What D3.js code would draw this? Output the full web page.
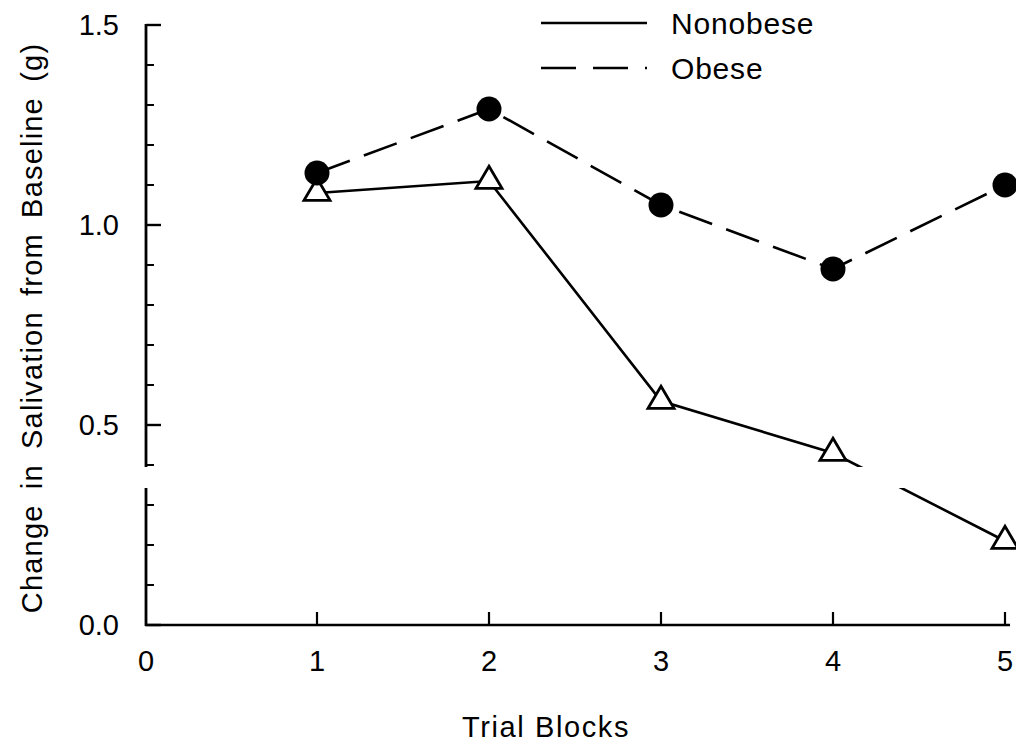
<!DOCTYPE html>
<html>
<head>
<meta charset="utf-8">
<script src="https://cdn.jsdelivr.net/npm/d3@7"></script>
<style>
  html, body { margin: 0; padding: 0; background: #fff; }
  svg { display: block; }
  text { font-family: "Liberation Sans", Arial, Helvetica, sans-serif; fill: #000; }
</style>
</head>
<body>
<svg id="chart" width="1016" height="745"></svg>
<script>
// ---- data ----
const trialBlocks = [1, 2, 3, 4, 5];
const nonobese = [1.08, 1.11, 0.56, 0.43, 0.21];
const obese = [1.13, 1.29, 1.05, 0.89, 1.10];
const xTickValues = [0, 1, 2, 3, 4, 5];
const yMajorTicks = [0.0, 0.5, 1.0, 1.5];
const yMinorTicks = [0.1, 0.2, 0.3, 0.4, 0.6, 0.7, 0.8, 0.9, 1.1, 1.2, 1.3, 1.4];
const seriesNames = ["Nonobese", "Obese"];
const xTitle = "Trial Blocks";
const yTitle = "Change in Salivation from Baseline (g)";

// ---- layout ----
const svg = d3.select("#chart");
const x = d3.scaleLinear().domain([0, 5]).range([145, 1005]);
const y = d3.scaleLinear().domain([0, 1.5]).range([625, 25]);
const axisLeftX = 146;
const breakTop = 467, breakBottom = 488;

const g = svg.append("g");

// axes lines
g.append("line").attr("x1", axisLeftX).attr("x2", axisLeftX)
  .attr("y1", y(1.5) - 1).attr("y2", y(0) + 1).attr("stroke", "#000").attr("stroke-width", 2.8);
g.append("line").attr("x1", axisLeftX - 1).attr("x2", 1010)
  .attr("y1", y(0)).attr("y2", y(0)).attr("stroke", "#000").attr("stroke-width", 2.6);

// y ticks (inside)
g.selectAll(".ymaj").data(yMajorTicks).join("line")
  .attr("x1", axisLeftX).attr("x2", axisLeftX + 15)
  .attr("y1", d => y(d)).attr("y2", d => y(d))
  .attr("stroke", "#000").attr("stroke-width", 2.4);
g.selectAll(".ymin").data(yMinorTicks).join("line")
  .attr("x1", axisLeftX).attr("x2", axisLeftX + 8)
  .attr("y1", d => y(d)).attr("y2", d => y(d))
  .attr("stroke", "#000").attr("stroke-width", 2);
g.selectAll(".ylab").data(yMajorTicks).join("text")
  .attr("x", 119).attr("y", d => y(d))
  .attr("dy", "0.36em")
  .attr("text-anchor", "end")
  .style("font-size", "29px")
  .text(d => d3.format(".1f")(d));

// x ticks (inside, pointing up)
g.selectAll(".xt").data(xTickValues.filter(d => d > 0)).join("line")
  .attr("x1", d => x(d)).attr("x2", d => x(d))
  .attr("y1", y(0)).attr("y2", y(0) - 13)
  .attr("stroke", "#000").attr("stroke-width", 2.2);
g.selectAll(".xlab").data(xTickValues).join("text")
  .attr("x", d => d === 0 ? axisLeftX : x(d)).attr("y", 671)
  .attr("text-anchor", "middle")
  .style("font-size", "29px")
  .text(d => d);

// axis titles
g.append("text").attr("x", 546).attr("y", 737)
  .attr("text-anchor", "middle")
  .style("font-size", "29px").style("letter-spacing", "1.6px")
  .text(xTitle);
g.append("text")
  .attr("transform", "translate(42,328) rotate(-90)")
  .attr("text-anchor", "middle")
  .style("font-size", "29px").style("letter-spacing", "1.2px").style("word-spacing", "6px")
  .text(yTitle);

// lines
const line = d3.line().x((d, i) => x(trialBlocks[i])).y(d => y(d));
g.append("path").datum(nonobese).attr("d", line)
  .attr("fill", "none").attr("stroke", "#000").attr("stroke-width", 2.6);
g.append("path").datum(obese).attr("d", line)
  .attr("fill", "none").attr("stroke", "#000").attr("stroke-width", 2.6)
  .attr("stroke-dasharray", "35,15");

// axis break stripe
g.append("rect").attr("x", 138).attr("y", breakTop)
  .attr("width", 1016 - 138).attr("height", breakBottom - breakTop)
  .attr("fill", "#fff");

// markers
const triType = {
  draw(ctx, size) {
    const w = 26, h = 22;
    ctx.moveTo(0, -2 * h / 3);
    ctx.lineTo(w / 2, h / 3);
    ctx.lineTo(-w / 2, h / 3);
    ctx.closePath();
  }
};
g.selectAll(".tri").data(nonobese).join("path")
  .attr("transform", (d, i) => `translate(${x(trialBlocks[i])},${y(d)})`)
  .attr("d", d3.symbol().type(triType)())
  .attr("fill", "#fff").attr("stroke", "#000").attr("stroke-width", 2.8)
  .attr("stroke-linejoin", "miter");
g.selectAll(".circ").data(obese).join("circle")
  .attr("cx", (d, i) => x(trialBlocks[i])).attr("cy", d => y(d))
  .attr("r", 12.5).attr("fill", "#000");

// legend
const legend = svg.append("g");
const legY = [23, 68];
legend.selectAll(".ll").data(seriesNames).join("line")
  .attr("x1", 541).attr("x2", 647)
  .attr("y1", (d, i) => legY[i]).attr("y2", (d, i) => legY[i])
  .attr("stroke", "#000").attr("stroke-width", 2.6)
  .attr("stroke-dasharray", (d, i) => i === 1 ? "35,17" : null);
legend.selectAll(".lt").data(seriesNames).join("text")
  .attr("x", 671).attr("y", (d, i) => legY[i])
  .attr("dy", "0.36em")
  .style("font-size", "30px").style("letter-spacing", "0.8px")
  .text(d => d);
</script>
</body>
</html>
